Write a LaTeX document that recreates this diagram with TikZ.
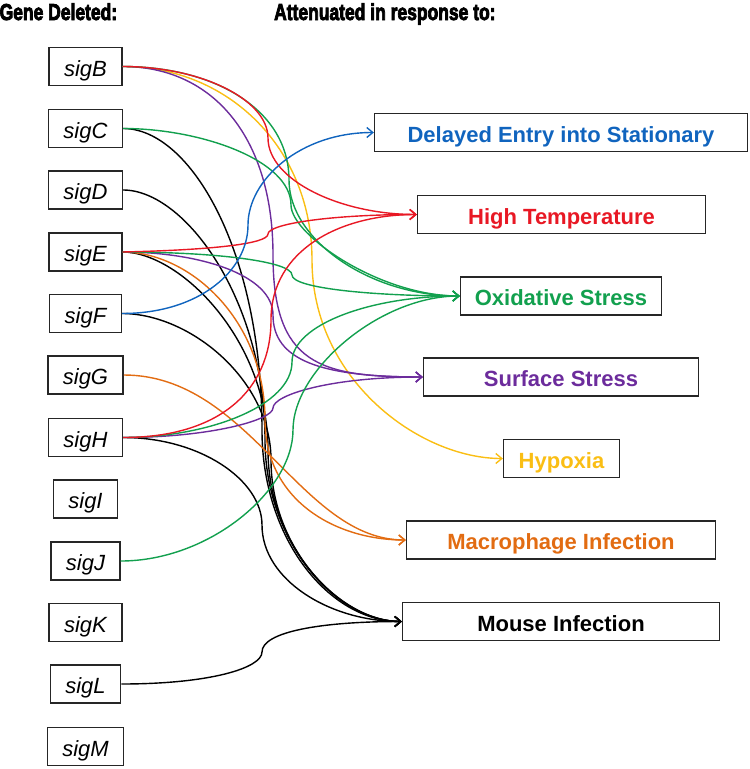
\documentclass[tikz,border=0pt]{standalone}
\usepackage{fontspec}
\setmainfont{Liberation Sans}
\usetikzlibrary{arrows.meta}
\definecolor{cblue}{RGB}{16,100,190}
\definecolor{cred}{RGB}{232,24,36}
\definecolor{cgreen}{RGB}{18,160,78}
\definecolor{cpurple}{RGB}{108,44,156}
\definecolor{cyellow}{RGB}{250,190,20}
\definecolor{corange}{RGB}{226,108,18}
\newcommand{\heavytext}[1]{\special{pdf:literal direct 2 Tr 0.9 w}#1\special{pdf:literal direct 0 Tr}}
\begin{document}
\begin{tikzpicture}[x=1pt,y=1pt,
  genebox/.style={draw=black!85, line width=1.3pt, minimum height=38pt, inner xsep=15pt, inner ysep=0pt,
    font=\fontsize{22}{26}\selectfont\itshape, text height=19.5pt, text depth=0.5pt},
  respbox/.style={draw=black!85, line width=1.3pt, minimum height=38pt, inner sep=0pt,
    font=\fontsize{22}{26}\selectfont\bfseries, text height=19.5pt, text depth=0.5pt},
  ttl/.style={anchor=base west, inner sep=0pt, xscale=0.76, transform shape,
    font={\bfseries\fontsize{23}{27}\selectfont}},
  conn/.style={line width=1.4pt, -{Straight Barb[length=6pt,width=10pt]}}]
\useasboundingbox (0,0) rectangle (750,-769);

\node[ttl] (t1) at (-0.5,-20) {\heavytext{Gene Deleted:}};
\node[ttl] (t2) at (274,-20) {\heavytext{Attenuated in response to:}};

\node[genebox] (sigB) at (85.5,-66.5) {sigB};
\node[genebox] (sigC) at (85.5,-128.5) {sigC};
\node[genebox] (sigD) at (85.5,-190) {sigD};
\node[genebox] (sigE) at (85.5,-252) {sigE};
\node[genebox] (sigF) at (85.5,-313.5) {sigF};
\node[genebox] (sigG) at (85.5,-375) {sigG};
\node[genebox] (sigH) at (85.5,-437.5) {sigH};
\node[genebox] (sigI) at (85.5,-499) {sigI};
\node[genebox] (sigJ) at (85.5,-561) {sigJ};
\node[genebox] (sigK) at (85.5,-622.5) {sigK};
\node[genebox] (sigL) at (85.5,-684) {sigL};
\node[genebox] (sigM) at (85.5,-746.5) {sigM};

\node[respbox, minimum width=373pt, text=cblue] (del) at (561,-132.5) {Delayed Entry into Stationary};
\node[respbox, minimum width=288pt, text=cred] (ht) at (561.5,-214.5) {High Temperature};
\node[respbox, minimum width=201pt, text=cgreen] (ox) at (561,-296) {Oxidative Stress};
\node[respbox, minimum width=275pt, text=cpurple] (surf) at (561,-377) {Surface Stress};
\node[respbox, minimum width=116pt, text=cyellow] (hyp) at (561.5,-458.5) {Hypoxia};
\node[respbox, minimum width=309pt, text=corange] (mac) at (561,-540) {Macrophage Infection};
\node[respbox, minimum width=317pt] (mouse) at (561,-621.5) {Mouse Infection};

% black -> Mouse Infection
\draw[conn] (sigC.east) .. controls (190,-128.5) and (262,-250) .. (262,-430) .. controls (262,-540) and (330,-621.5) .. (mouse.west);
\draw[conn] (sigD.east) .. controls (185,-190) and (265,-300) .. (265,-440) .. controls (265,-540) and (335,-621.5) .. (mouse.west);
\draw[conn] (sigE.east) .. controls (180,-252) and (268,-340) .. (268,-450) .. controls (268,-545) and (338,-621.5) .. (mouse.west);
\draw[conn] (sigF.east) .. controls (190,-313.5) and (271,-380) .. (271,-460) .. controls (271,-550) and (342,-621.5) .. (mouse.west);
\draw[conn] (sigH.east) .. controls (200,-437.5) and (262,-480) .. (262,-525) .. controls (262,-580) and (330,-621.5) .. (mouse.west);
\draw[conn] (sigL.east) .. controls (210,-684) and (262,-668) .. (262,-652) .. controls (262,-632) and (320,-621.5) .. (mouse.west);

% orange -> Macrophage
\draw[conn,corange] (sigE.east) .. controls (190,-252) and (265,-320) .. (265,-420) .. controls (265,-500) and (335,-540) .. (mac.west);
\draw[conn,corange] (sigG.east) .. controls (250,-375) and (300,-540) .. (mac.west);

% yellow -> Hypoxia
\draw[conn,cyellow] (sigB.east) .. controls (230,-66.5) and (312,-150) .. (312,-260) .. controls (312,-380) and (420,-458.5) .. (hyp.west);

% purple -> Surface Stress
\draw[conn,cpurple] (sigB.east) .. controls (215,-66.5) and (273,-140) .. (273,-255) .. controls (273,-365) and (320,-377) .. (surf.west);
\draw[conn,cpurple] (sigE.east) .. controls (200,-252) and (273,-275) .. (273,-315) .. controls (273,-360) and (320,-377) .. (surf.west);
\draw[conn,cpurple] (sigH.east) .. controls (210,-437.5) and (273,-420) .. (273,-408) .. controls (273,-395) and (330,-377) .. (surf.west);

% green -> Oxidative Stress
\draw[conn,cgreen] (sigB.east) .. controls (215,-66.5) and (289,-110) .. (289,-180) .. controls (289,-240) and (370,-296) .. (ox.west);
\draw[conn,cgreen] (sigC.east) .. controls (200,-128.5) and (291,-160) .. (291,-205) .. controls (291,-235) and (380,-296) .. (ox.west);
\draw[conn,cgreen] (sigE.east) .. controls (220,-252) and (292,-262) .. (292,-275) .. controls (292,-288) and (370,-296) .. (ox.west);
\draw[conn,cgreen] (sigH.east) .. controls (210,-437.5) and (292,-405) .. (292,-362) .. controls (292,-325) and (370,-296) .. (ox.west);
\draw[conn,cgreen] (sigJ.east) .. controls (210,-561) and (293,-490) .. (293,-430) .. controls (293,-370) and (380,-296) .. (ox.west);

% red -> High Temperature
\draw[conn,cred] (sigB.east) .. controls (202,-66.5) and (268,-100) .. (268,-138) .. controls (268,-180) and (340,-214.5) .. (ht.west);
\draw[conn,cred] (sigE.east) .. controls (210,-250) and (268,-244) .. (268,-234) .. controls (268,-224) and (330,-214.5) .. (ht.west);
\draw[conn,cred] (sigH.east) .. controls (220,-437.5) and (271,-390) .. (271,-320) .. controls (271,-250) and (340,-214.5) .. (ht.west);

% blue -> Delayed Entry
\draw[conn,cblue] (sigF.east) .. controls (200,-313.5) and (248,-270) .. (248,-225) .. controls (248,-180) and (300,-132.5) .. (del.west);
\end{tikzpicture}
\end{document}
